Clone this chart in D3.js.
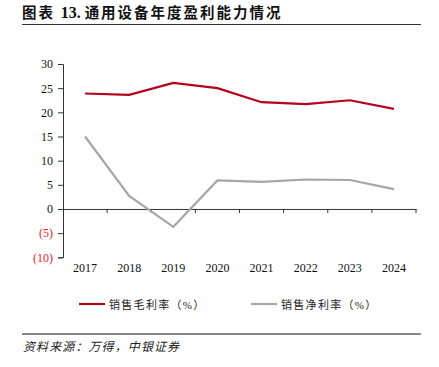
<!DOCTYPE html>
<html>
<head>
<meta charset="utf-8">
<script src="https://cdn.jsdelivr.net/npm/d3@7"></script>
<style>
body { margin: 0; background: #fff; }
svg text { font-family: "Liberation Serif", "Noto Sans CJK SC", serif; }
</style>
</head>
<body>
<svg id="svg" width="439" height="367"></svg>
<script>
// data
const years = ["2017", "2018", "2019", "2020", "2021", "2022", "2023", "2024"];
const grossMargin = [23.9, 23.6, 26.1, 25.0, 22.1, 21.7, 22.5, 20.7];
const netMargin = [15.0, 2.7, -3.7, 5.9, 5.6, 6.1, 6.0, 4.1];
const yTicks = [30, 25, 20, 15, 10, 5, 0, -5, -10];
const seriesNames = ["销售毛利率（%）", "销售净利率（%）"];
const seriesColors = ["#B5001E", "#A6A6A6"];

const cjk = '"Noto Sans CJK SC", sans-serif';
const margins = { left: 63, right: 23, top: 64, bottom: 110 };

let mySvg = d3.select('#svg');

let xScale = d3.scaleBand()
    .domain(years)
    .range([margins.left, 416]);
let yScale = d3.scaleLinear()
    .domain([-10, 30])
    .range([257.3, 64]);
let getX = (i) => xScale(years[i]) + xScale.bandwidth() / 2;

// title + rules
let title = mySvg.append("text")
    .attr("x", 22).attr("y", 18)
    .attr("font-size", 14.5).attr("font-weight", "bold")
    .attr("font-family", cjk)
    .attr("letter-spacing", 2)
    .attr("fill", "#111");
title.append("tspan").text("图表 ");
title.append("tspan").attr("font-family", '"Liberation Serif", serif').attr("font-size", 16).attr("letter-spacing", 0).text("13. ");
title.append("tspan").text("通用设备年度盈利能力情况");
mySvg.append("line")
    .attr("x1", 22).attr("x2", 421).attr("y1", 24.5).attr("y2", 24.5)
    .attr("stroke", "#333").attr("stroke-width", 1.2);
mySvg.append("line")
    .attr("x1", 22).attr("x2", 421).attr("y1", 334).attr("y2", 334)
    .attr("stroke", "#111").attr("stroke-width", 1.2);
mySvg.append("text")
    .attr("x", 23).attr("y", 351)
    .attr("font-size", 12).attr("font-style", "italic")
    .attr("font-family", cjk)
    .attr("letter-spacing", 1.1)
    .attr("fill", "#222")
    .text("资料来源：万得，中银证券");

// Y AXIS
let yAxis = d3.axisLeft(yScale)
    .tickValues(yTicks)
    .tickSize(5)
    .tickFormat(d => d < 0 ? `(${-d})` : d);
let yg = mySvg.append("g")
    .attr("transform", `translate(${margins.left},0)`)
    .call(yAxis);
yg.select(".domain").attr("stroke", "#333");
yg.selectAll(".tick line").attr("stroke", "#333");
yg.selectAll(".tick text")
    .attr("font-size", 12)
    .attr("x", -10)
    .attr("fill", d => d < 0 ? "#E8202A" : "#111");

// X AXIS at zero
let xAxis = d3.axisBottom(xScale).tickSize(0).tickFormat("");
let xg = mySvg.append("g")
    .attr("transform", `translate(0,${yScale(0)})`)
    .call(xAxis);
xg.select(".domain").attr("stroke", "#333");
// boundary ticks between categories
mySvg.append("g").selectAll("line")
    .data(years.map((d, i) => i + 1))
    .enter().append("line")
    .attr("x1", i => margins.left + i * xScale.step())
    .attr("x2", i => margins.left + i * xScale.step())
    .attr("y1", yScale(0)).attr("y2", yScale(0) + 4)
    .attr("stroke", "#333");
mySvg.append("g").selectAll("text")
    .data(years)
    .enter().append("text")
    .attr("x", (d, i) => getX(i))
    .attr("y", 272)
    .attr("text-anchor", "middle")
    .attr("font-size", 12)
    .attr("fill", "#111")
    .text(d => d);

// LINES
let line = d3.line()
    .x((d, i) => getX(i))
    .y(d => yScale(d));
[grossMargin, netMargin].forEach((s, k) => {
    mySvg.append("path")
        .datum(s)
        .attr("d", line)
        .attr("fill", "none")
        .attr("stroke", seriesColors[k])
        .attr("stroke-width", 2.2);
});

// LEGEND
const legendX = [79, 251];
seriesNames.forEach((name, k) => {
    mySvg.append("line")
        .attr("x1", legendX[k]).attr("x2", legendX[k] + 26)
        .attr("y1", 304).attr("y2", 304)
        .attr("stroke", seriesColors[k]).attr("stroke-width", 2.2);
    mySvg.append("text")
        .attr("x", legendX[k] + 30).attr("y", 308.5)
        .attr("font-size", 11)
        .attr("font-family", cjk)
        .attr("letter-spacing", 1.3)
        .attr("fill", "#222")
        .text(name);
});
</script>
</body>
</html>
